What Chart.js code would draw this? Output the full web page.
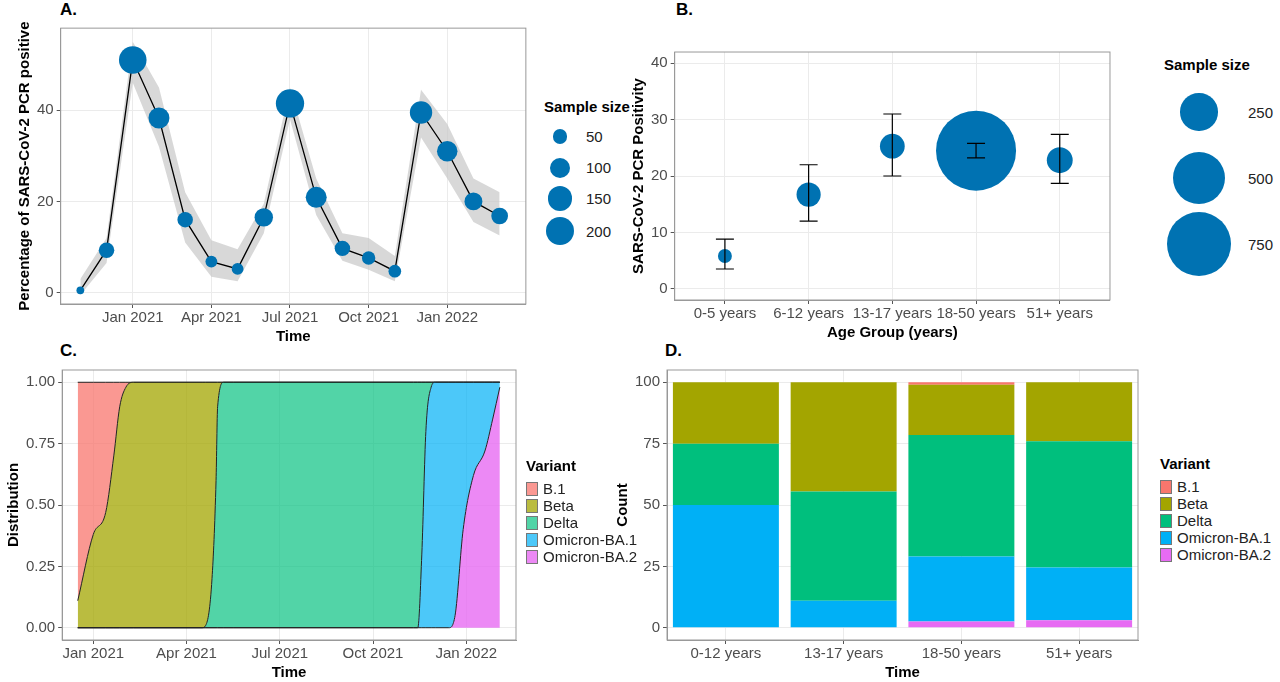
<!DOCTYPE html>
<html><head><meta charset="utf-8">
<script src="https://cdn.jsdelivr.net/npm/chart.js@4"></script>
<style>
body{margin:0;background:#fff;font-family:"Liberation Sans",Arial,sans-serif;width:1280px;height:682px;position:relative;overflow:hidden}
.c{position:absolute}
.lab{position:absolute;font-weight:bold;font-size:17px}
.leg{position:absolute;font-size:15px;color:#222}
.leg b{font-size:15px;display:block;margin-bottom:6px;color:#000}
.row{display:flex;align-items:center;height:31px}
.dot{background:#0072B2;border-radius:50%;display:inline-block}
.sw{display:inline-block;width:12px;height:14px;border:1px solid #777;margin-right:5px;box-sizing:border-box}
.vrow{display:flex;align-items:center;height:15px;font-size:15px}
</style></head><body>
<div class="lab" style="left:60px;top:0px">A.</div>
<div class="lab" style="left:676px;top:0px">B.</div>
<div class="lab" style="left:60px;top:341px">C.</div>
<div class="lab" style="left:665px;top:341px">D.</div>
<div class="c" style="left:0;top:14px"><canvas id="a"></canvas></div>
<div class="c" style="left:630px;top:12px"><canvas id="b"></canvas></div>
<div class="c" style="left:0;top:358px"><canvas id="cc"></canvas></div>
<div class="c" style="left:614px;top:358px"><canvas id="d"></canvas></div>
<div class="leg" id="legA" style="left:544px;top:98px"><b>Sample size</b></div>
<div class="leg" id="legB" style="left:1164px;top:56px"><b>Sample size</b></div>
<div class="leg" id="legC" style="left:526px;top:457px"><b>Variant</b></div>
<div class="leg" id="legD" style="left:1160px;top:455px"><b>Variant</b></div>
<script>
// Panel A: monthly positivity (month index 0 = Nov 2020)
const monthsA = [0,1,2,3,4,5,6,7,8,9,10,11,12,13,14,15,16];
const positivity = [0.5,9.3,51,38.3,16,6.8,5.2,16.5,41.5,20.9,9.7,7.6,4.7,39.5,31,20,16.8];
const upperA = [3,12,55,45,22,11.5,9.5,19.5,45,25,13,12,8,44.5,37,25,22];
const lowerA = [-0.5,6.5,46,32,11,3.5,2.5,13,38,17,7,5,2.5,34,25,15.5,12.5];
const sizeA = [15,60,190,110,60,35,35,85,200,110,60,45,40,125,105,80,70];
const tickMonthsA = [2,5,8,11,14];
const tickLabelsA = ['Jan 2021','Apr 2021','Jul 2021','Oct 2021','Jan 2022'];

// Panel B: age groups
const ageGroups = ['0-5 years','6-12 years','13-17 years','18-50 years','51+ years'];
const positivityB = [5.8,16.7,25.3,24.5,22.8];
const lowB = [3.5,12,20,23.2,18.7];
const highB = [8.8,22,31,25.8,27.4];
const sizeB = [35,105,110,1150,120];

// Panel C: variant distribution over time (month index 0 = Jan 2021)
const tC = [-0.5,0,0.4,0.66,0.85,1.05,1.3,3.5,3.62,3.82,3.95,4.0,4.2,4.5,10.3,10.44,10.57,10.7,10.87,11.0,11.44,11.64,11.9,12.23,12.6,12.85,13.08];
const b1C    = [.89,.62,.53,.3,.1,.02,0,0,0,0,0,0,0,0,0,0,0,0,0,0,0,0,0,0,0,0,0];
const betaC  = [.11,.38,.47,.7,.9,.98,1,1,.99,.8,.4,.1,0,0,0,0,0,0,0,0,0,0,0,0,0,0,0];
const deltaC = [0,0,0,0,0,0,0,0,.01,.2,.6,.9,1,1,1,1,.7,.2,.02,0,0,0,0,0,0,0,0];
const ba1C   = [0,0,0,0,0,0,0,0,0,0,0,0,0,0,0,0,.3,.8,.98,1,1,.95,.6,.38,.28,.15,.02];
const ba2C   = [0,0,0,0,0,0,0,0,0,0,0,0,0,0,0,0,0,0,0,0,0,.05,.4,.62,.72,.85,.98];
const tickMonthsC = [0,3,6,9,12];

// Panel D: counts (%) by age group
const ageD = ['0-12 years','13-17 years','18-50 years','51+ years'];
const b1D = [0,0,1,0];
const betaD = [25,44.5,20.5,24];
const deltaD = [25,44.5,49.5,51.5];
const ba1D = [50,11,26.5,21.5];
const ba2D = [0,0,2.5,3];

const variants = ['B.1','Beta','Delta','Omicron-BA.1','Omicron-BA.2'];
const vColors = ['#F8766D','#A3A500','#00BF7D','#00B0F6','#E76BF3'];
const vColorsC = ['rgba(248,118,109,0.75)','rgba(163,165,0,0.75)','rgba(0,191,125,0.68)','rgba(0,176,246,0.7)','rgba(231,107,243,0.8)'];

Chart.defaults.font.family = '"Liberation Sans", Arial, sans-serif';
Chart.defaults.animation = false;
const tickFont = {size:15};
const grid = {color:'#ebebeb', tickLength:4, tickColor:'#555'};
const border = {color:'#999', width:1};
const title = t => ({display:true,text:t,color:'#000',font:{size:15,weight:'bold'},padding:0});
const frame = {id:'frame',afterDraw(ch){const a=ch.chartArea,c=ch.ctx;c.save();c.strokeStyle='#999';c.lineWidth=1;c.strokeRect(a.left,a.top,a.width,a.height);c.restore();}};

function sizeCanvas(id,w,h){const el=document.getElementById(id);el.width=w;el.height=h;el.style.width=w+'px';el.style.height=h+'px';return el;}

// A
new Chart(sizeCanvas('a',540,332),{
  type:'line',
  data:{datasets:[
    {data:monthsA.map((m,i)=>({x:m,y:upperA[i]})),borderWidth:0,pointRadius:0,backgroundColor:'rgba(200,200,200,0.7)',fill:'+1',order:3},
    {data:monthsA.map((m,i)=>({x:m,y:lowerA[i]})),borderWidth:0,pointRadius:0,fill:false,order:3},
    {data:monthsA.map((m,i)=>({x:m,y:positivity[i]})),borderColor:'#000',borderWidth:1.3,pointRadius:0,fill:false,order:2},
    {type:'bubble',data:monthsA.map((m,i)=>({x:m,y:positivity[i],r:Math.sqrt(sizeA[i])})),backgroundColor:'#0072B2',borderWidth:0,order:1}
  ]},
  options:{responsive:false,plugins:{legend:{display:false},tooltip:{enabled:false}},
    layout:{padding:{top:13,right:5,left:16}},
    scales:{
      x:{type:'linear',min:-0.75,max:17,grid,border,title:title('Time'),
        afterBuildTicks:s=>{s.ticks=tickMonthsA.map(v=>({value:v}));},
        ticks:{font:tickFont,color:'#4d4d4d',maxRotation:0,padding:1,callback:v=>tickLabelsA[tickMonthsA.indexOf(v)]}},
      y:{min:-2.5,max:58,grid,border,title:title('Percentage of SARS-CoV-2 PCR positive'),
        afterBuildTicks:s=>{s.ticks=[0,20,40].map(v=>({value:v}));},
        ticks:{font:tickFont,color:'#4d4d4d'}}
    }},
  plugins:[frame]
});

// B
const errBars = {id:'err',afterDatasetsDraw(ch){const x=ch.scales.x,y=ch.scales.y,c=ch.ctx;c.save();c.strokeStyle='#000';c.lineWidth=1.2;
  ageGroups.forEach((g,i)=>{const px=x.getPixelForValue(i),t=y.getPixelForValue(highB[i]),b=y.getPixelForValue(lowB[i]);
    c.beginPath();c.moveTo(px,t);c.lineTo(px,b);c.moveTo(px-9,t);c.lineTo(px+9,t);c.moveTo(px-9,b);c.lineTo(px+9,b);c.stroke();});
  c.restore();}};
new Chart(sizeCanvas('b',520,330),{
  type:'bubble',
  data:{labels:ageGroups,datasets:[{data:ageGroups.map((g,i)=>({x:i,y:positivityB[i],r:1.18*Math.sqrt(sizeB[i])})),backgroundColor:'#0072B2',borderWidth:0}]},
  options:{responsive:false,plugins:{legend:{display:false},tooltip:{enabled:false}},
    layout:{padding:{top:10,right:6,left:0}},
    scales:{
      x:{type:'linear',min:-0.6,max:4.6,grid,border,title:title('Age Group (years)'),
        afterBuildTicks:s=>{s.ticks=[0,1,2,3,4].map(v=>({value:v}));},
        ticks:{font:tickFont,color:'#4d4d4d',padding:1,callback:v=>ageGroups[v]}},
      y:{min:-2,max:42,grid,border,title:title('SARS-CoV-2 PCR Positivity'),
        afterBuildTicks:s=>{s.ticks=[0,10,20,30,40].map(v=>({value:v}));},
        ticks:{font:tickFont,color:'#4d4d4d'}}
    }},
  plugins:[frame,errBars]
});

// C
const cSeries = [ba2C,ba1C,deltaC,betaC,b1C];
const cIdx = [4,3,2,1,0];
new Chart(sizeCanvas('cc',520,324),{
  type:'line',
  data:{datasets:cSeries.map((s,k)=>({data:tC.map((t,i)=>({x:t,y:s[i]})),backgroundColor:vColorsC[cIdx[k]],borderColor:'#222',borderWidth:1,
    pointRadius:0,fill:k===0?'origin':'-1',cubicInterpolationMode:'monotone'}))},
  options:{responsive:false,plugins:{legend:{display:false},tooltip:{enabled:false}},
    layout:{padding:{top:6,right:4,left:5}},
    scales:{
      x:{type:'linear',min:-1.0,max:13.6,grid,border,title:title('Time'),
        afterBuildTicks:s=>{s.ticks=tickMonthsC.map(v=>({value:v}));},
        ticks:{font:tickFont,color:'#4d4d4d',padding:1,callback:v=>tickLabelsA[tickMonthsC.indexOf(v)]}},
      y:{stacked:true,min:-0.05,max:1.05,grid,border,title:title('Distribution'),
        afterBuildTicks:s=>{s.ticks=[0,.25,.5,.75,1].map(v=>({value:v}));},
        ticks:{font:tickFont,color:'#4d4d4d',callback:v=>v.toFixed(2)}}
    }},
  plugins:[frame]
});

// D
const dSeries = [ba2D,ba1D,deltaD,betaD,b1D];
new Chart(sizeCanvas('d',536,324),{
  type:'bar',
  data:{labels:ageD,datasets:dSeries.map((s,k)=>({data:s,backgroundColor:vColors[cIdx[k]],barPercentage:0.9,categoryPercentage:1}))},
  options:{responsive:false,plugins:{legend:{display:false},tooltip:{enabled:false}},
    layout:{padding:{top:6,right:12}},
    scales:{
      x:{stacked:true,grid:{...grid,offset:false},border,title:title('Time'),ticks:{font:tickFont,color:'#4d4d4d',padding:1}},
      y:{stacked:true,min:-5,max:105,grid,border,title:title('Count'),
        afterBuildTicks:s=>{s.ticks=[0,25,50,75,100].map(v=>({value:v}));},
        ticks:{font:tickFont,color:'#4d4d4d'}}
    }},
  plugins:[frame]
});

// legends
const legA=document.getElementById('legA');
[50,100,150,200].forEach(n=>{const r=Math.sqrt(n);legA.insertAdjacentHTML('beforeend',
  `<div class="row" style="height:${n===200?34:31}px"><span style="width:32px;display:inline-flex;justify-content:center"><span class="dot" style="width:${2*r}px;height:${2*r}px"></span></span><span style="margin-left:10px">${n}</span></div>`);});
const legB=document.getElementById('legB');
[250,500,750].forEach(n=>{const r=1.18*Math.sqrt(n);legB.insertAdjacentHTML('beforeend',
  `<div class="row" style="height:66px"><span style="width:70px;display:inline-flex;justify-content:center"><span class="dot" style="width:${2*r}px;height:${2*r}px"></span></span><span style="margin-left:14px">${n}</span></div>`);});
[['legC',vColorsC],['legD',vColors]].forEach(([id,cols])=>{const el=document.getElementById(id);
  variants.forEach((v,i)=>el.insertAdjacentHTML('beforeend',`<div class="vrow" style="height:17px"><span class="sw" style="background:${cols[i]}"></span>${v}</div>`));});
</script>
</body></html>
